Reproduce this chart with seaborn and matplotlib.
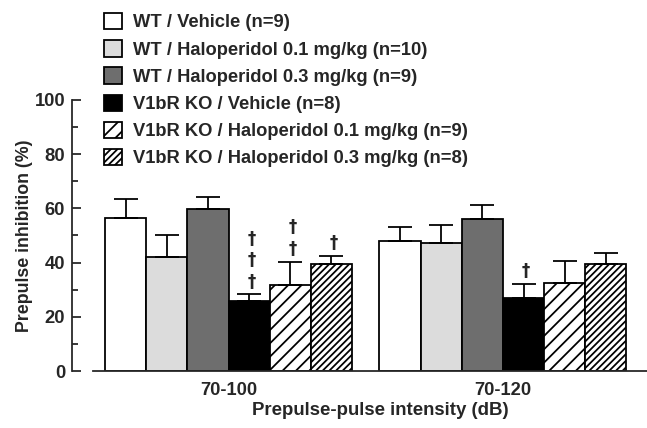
#!/usr/bin/env python3
# -*- coding: utf-8 -*-

import matplotlib
matplotlib.use("Agg")
import matplotlib.pyplot as plt
import pandas as pd
import seaborn as sns
from matplotlib.ticker import MultipleLocator

# data
intensities = ["70-100", "70-120"]
groups = [
    "WT / Vehicle (n=9)",
    "WT / Haloperidol 0.1 mg/kg (n=10)",
    "WT / Haloperidol 0.3 mg/kg (n=9)",
    "V1bR KO / Vehicle (n=8)",
    "V1bR KO / Haloperidol 0.1 mg/kg (n=9)",
    "V1bR KO / Haloperidol 0.3 mg/kg (n=8)",
]
pi_70_100 = [56.6, 41.9, 59.6, 25.8, 31.6, 39.3]
pi_70_120 = [47.9, 47.2, 56.0, 27.1, 32.5, 39.3]
sem_70_100 = [7.0, 8.1, 4.7, 2.5, 8.8, 3.3]
sem_70_120 = [5.4, 6.8, 5.4, 4.9, 8.0, 4.2]
# number of daggers above each bar
daggers_70_100 = [0, 0, 0, 3, 2, 1]
daggers_70_120 = [0, 0, 0, 1, 0, 0]

colors = ["white", "#dcdcdc", "#6e6e6e", "black", "white", "white"]
hatches = [None, None, None, None, "//", "////"]

df = pd.DataFrame({
    "intensity": [intensities[0]] * 6 + [intensities[1]] * 6,
    "group": groups * 2,
    "pi": pi_70_100 + pi_70_120,
})
sems = [sem_70_100, sem_70_120]
daggers = [daggers_70_100, daggers_70_120]

sns.set_style("ticks")
plt.rcParams["font.family"] = ["Liberation Sans", "DejaVu Sans"]
plt.rcParams["font.weight"] = "bold"
plt.rcParams["hatch.linewidth"] = 1.6

fig = plt.figure(figsize=(647 / 80, 428 / 80), dpi=80)
ax = fig.add_axes([93 / 647, 57 / 428, 554 / 647, 271 / 428])

sns.barplot(data=df, x="intensity", y="pi", hue="group", hue_order=groups,
            palette=colors, width=0.9, edgecolor="black", linewidth=1.6,
            errorbar=None, legend=False, ax=ax)

bar_containers = list(ax.containers)
for container, hatch in zip(bar_containers, hatches):
    for bar in container:
        bar.set_hatch(hatch)

# upper-only error bars and dagger marks
for gi, container in enumerate(bar_containers):
    for ci, bar in enumerate(container.patches):
        xc = bar.get_x() + bar.get_width() / 2
        top = bar.get_height()
        err = sems[ci][gi]
        ax.errorbar(xc, top, yerr=[[0], [err]], fmt="none", ecolor="black",
                    elinewidth=1.6, capsize=11, capthick=1.6, zorder=1)
        n = daggers[ci][gi]
        if n:
            ax.text(xc + 0.008, top + err + 1.4, "\n".join(["\u2020"] * n),
                    ha="center", va="bottom", fontsize=15, fontweight="bold",
                    family="DejaVu Sans", linespacing=1.25)

ax.set_xlim(-0.494, 1.525)
ax.set_ylim(0, 100)
ax.yaxis.set_major_locator(MultipleLocator(20))
ax.yaxis.set_minor_locator(MultipleLocator(10))
ax.tick_params(axis="y", which="major", direction="in", length=8, width=1.6,
               labelsize=16.5, pad=6)
ax.tick_params(axis="y", which="minor", direction="in", length=5, width=1.6)
ax.tick_params(axis="x", length=0, labelsize=16.5, pad=10)

sns.despine(ax=ax)
ax.spines["left"].set_position(("outward", 19))
ax.spines["left"].set_linewidth(1.6)
ax.spines["bottom"].set_linewidth(1.6)

ax.set_xlabel("Prepulse-pulse intensity (dB)", fontsize=16.8,
              fontweight="bold")
ax.xaxis.set_label_coords(0.518, -0.115)
ax.set_ylabel("Prepulse inhibition (%)", fontsize=16, fontweight="bold",
              labelpad=1)

ax.legend(bar_containers, groups, loc="upper left",
          bbox_to_anchor=(104 / 647, 1 - 13 / 428),
          bbox_transform=fig.transFigure, frameon=False, fontsize=16.5,
          handlelength=1.0, handleheight=1.0, handletextpad=0.6,
          labelspacing=0.475, borderaxespad=0, borderpad=0)

fig.savefig("out.png", dpi=80)
